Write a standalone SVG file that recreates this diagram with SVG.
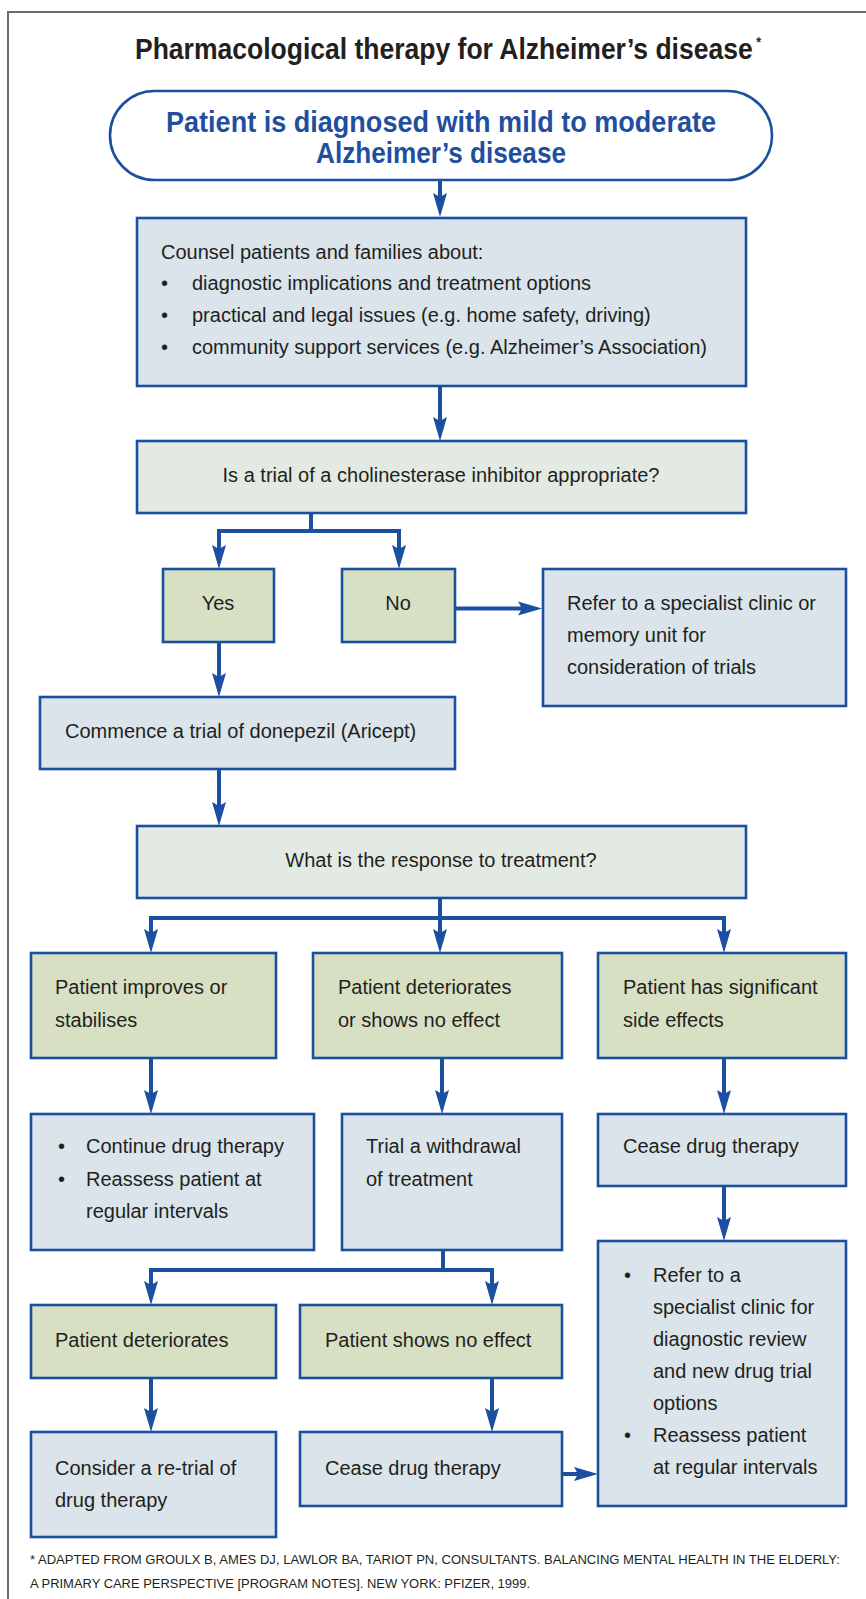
<svg xmlns="http://www.w3.org/2000/svg" width="866" height="1599" viewBox="0 0 866 1599">
<defs>
<marker id="ah" markerUnits="userSpaceOnUse" markerWidth="30" markerHeight="20" viewBox="-10 -10 30 20" refX="0" refY="0" orient="auto" overflow="visible">
<path d="M15,0 L-9,-7 L-5,0 L-9,7 Z" fill="#1b4f9f"/>
</marker>
<style>
.bx{stroke:#1b4f9f;stroke-width:2.6}
.lb{fill:#dae4ea}
.gr{fill:#d8e0c4}
.dc{fill:#e3eae3}
.t{font-family:"Liberation Sans",Arial,sans-serif;font-size:20px;fill:#231f20}
.c{stroke:#1b4f9f;stroke-width:4;fill:none}
.a{marker-end:url(#ah)}
</style>
</defs>
<rect width="866" height="1599" fill="#ffffff"/>
<path d="M8,1599 V12 H866" fill="none" stroke="#6b6b6b" stroke-width="2"/>
<g id="title">
<text x="135" y="59" textLength="626" lengthAdjust="spacingAndGlyphs" style="font-family:'Liberation Sans',Arial,sans-serif;font-weight:bold;font-size:30px;fill:#231f20">Pharmacological therapy for Alzheimer’s disease<tspan dx="4" dy="-12" style="font-size:14px">*</tspan></text>
</g>
<g id="start">
<rect x="110" y="91" width="662" height="89" rx="44.5" fill="#ffffff" class="bx"/>
<text x="166" y="132" textLength="550" lengthAdjust="spacingAndGlyphs" style="font-family:'Liberation Sans',Arial,sans-serif;font-weight:bold;font-size:29px;fill:#1f4f9e">Patient is diagnosed with mild to moderate</text>
<text x="316" y="163" textLength="250" lengthAdjust="spacingAndGlyphs" style="font-family:'Liberation Sans',Arial,sans-serif;font-weight:bold;font-size:29px;fill:#1f4f9e">Alzheimer’s disease</text>
</g>
<g id="counsel">
<rect x="137" y="218" width="609" height="168" class="bx lb"/>
<text class="t" x="161" y="259">Counsel patients and families about:</text>
<text class="t" x="161" y="290">•</text><text class="t" x="192" y="290">diagnostic implications and treatment options</text>
<text class="t" x="161" y="322">•</text><text class="t" x="192" y="322">practical and legal issues (e.g. home safety, driving)</text>
<text class="t" x="161" y="354">•</text><text class="t" x="192" y="354">community support services (e.g. Alzheimer’s Association)</text>
</g>
<g id="decision1">
<rect x="137" y="441" width="609" height="72" class="bx dc"/>
<text class="t" x="441" y="482" text-anchor="middle">Is a trial of a cholinesterase inhibitor appropriate?</text>
</g>
<g id="yes">
<rect x="163" y="569" width="111" height="73" class="bx gr"/>
<text class="t" x="218" y="610" text-anchor="middle">Yes</text>
</g>
<g id="no">
<rect x="342" y="569" width="113" height="73" class="bx gr"/>
<text class="t" x="398" y="610" text-anchor="middle">No</text>
</g>
<g id="refer">
<rect x="543" y="569" width="303" height="137" class="bx lb"/>
<text class="t" x="567" y="610">Refer to a specialist clinic or</text>
<text class="t" x="567" y="642">memory unit for</text>
<text class="t" x="567" y="674">consideration of trials</text>
</g>
<g id="commence">
<rect x="40" y="697" width="415" height="72" class="bx lb"/>
<text class="t" x="65" y="738">Commence a trial of donepezil (Aricept)</text>
</g>
<g id="response">
<rect x="137" y="826" width="609" height="72" class="bx dc"/>
<text class="t" x="441" y="867" text-anchor="middle">What is the response to treatment?</text>
</g>
<g id="improves">
<rect x="31" y="953" width="245" height="105" class="bx gr"/>
<text class="t" x="55" y="994">Patient improves or</text>
<text class="t" x="55" y="1027">stabilises</text>
</g>
<g id="deteriorates-or-no-effect">
<rect x="313" y="953" width="249" height="105" class="bx gr"/>
<text class="t" x="338" y="994">Patient deteriorates</text>
<text class="t" x="338" y="1027">or shows no effect</text>
</g>
<g id="side-effects">
<rect x="598" y="953" width="248" height="105" class="bx gr"/>
<text class="t" x="623" y="994">Patient has significant</text>
<text class="t" x="623" y="1027">side effects</text>
</g>
<g id="continue">
<rect x="31" y="1114" width="283" height="136" class="bx lb"/>
<text class="t" x="58" y="1153">•</text><text class="t" x="86" y="1153">Continue drug therapy</text>
<text class="t" x="58" y="1186">•</text><text class="t" x="86" y="1186">Reassess patient at</text>
<text class="t" x="86" y="1218">regular intervals</text>
</g>
<g id="withdrawal">
<rect x="342" y="1114" width="220" height="136" class="bx lb"/>
<text class="t" x="366" y="1153">Trial a withdrawal</text>
<text class="t" x="366" y="1186">of treatment</text>
</g>
<g id="cease1">
<rect x="598" y="1114" width="248" height="72" class="bx lb"/>
<text class="t" x="623" y="1153">Cease drug therapy</text>
</g>
<g id="refer2">
<rect x="598" y="1241" width="248" height="265" class="bx lb"/>
<text class="t" x="624" y="1282">•</text><text class="t" x="653" y="1282">Refer to a</text>
<text class="t" x="653" y="1314">specialist clinic for</text>
<text class="t" x="653" y="1346">diagnostic review</text>
<text class="t" x="653" y="1378">and new drug trial</text>
<text class="t" x="653" y="1410">options</text>
<text class="t" x="624" y="1442">•</text><text class="t" x="653" y="1442">Reassess patient</text>
<text class="t" x="653" y="1474">at regular intervals</text>
</g>
<g id="deteriorates">
<rect x="31" y="1305" width="245" height="73" class="bx gr"/>
<text class="t" x="55" y="1347">Patient deteriorates</text>
</g>
<g id="no-effect">
<rect x="300" y="1305" width="262" height="73" class="bx gr"/>
<text class="t" x="325" y="1347">Patient shows no effect</text>
</g>
<g id="retrial">
<rect x="31" y="1432" width="245" height="105" class="bx lb"/>
<text class="t" x="55" y="1475">Consider a re-trial of</text>
<text class="t" x="55" y="1507">drug therapy</text>
</g>
<g id="cease2">
<rect x="300" y="1432" width="262" height="74" class="bx lb"/>
<text class="t" x="325" y="1475">Cease drug therapy</text>
</g>
<g id="connectors">
<path class="c a" d="M440,181 V202"/>
<path class="c a" d="M440,387 V426"/>
<path class="c" d="M311,514 V531"/>
<path class="c" d="M219,531 H399" stroke-linecap="square"/>
<path class="c a" d="M219,531 V554"/>
<path class="c a" d="M399,531 V554"/>
<path class="c a" d="M456,608.5 H527"/>
<path class="c a" d="M219,643 V682"/>
<path class="c a" d="M219,770 V811"/>
<path class="c" d="M440,899 V918"/>
<path class="c" d="M151,918 H724" stroke-linecap="square"/>
<path class="c a" d="M151,918 V938"/>
<path class="c a" d="M440,918 V938"/>
<path class="c a" d="M724,918 V938"/>
<path class="c a" d="M151,1059 V1099"/>
<path class="c a" d="M442,1059 V1099"/>
<path class="c a" d="M724,1059 V1099"/>
<path class="c a" d="M724,1187 V1226"/>
<path class="c" d="M443,1251 V1270"/>
<path class="c" d="M151,1270 H492" stroke-linecap="square"/>
<path class="c a" d="M151,1270 V1290"/>
<path class="c a" d="M492,1270 V1290"/>
<path class="c a" d="M151,1379 V1417"/>
<path class="c a" d="M492,1379 V1417"/>
<path class="c a" d="M563,1474 H583"/>
</g>
<g id="footnote">
<text x="30" y="1564" textLength="810" lengthAdjust="spacingAndGlyphs" style="font-family:'Liberation Sans',Arial,sans-serif;font-size:12px;fill:#231f20">* ADAPTED FROM GROULX B, AMES DJ, LAWLOR BA, TARIOT PN, CONSULTANTS. BALANCING MENTAL HEALTH IN THE ELDERLY:</text>
<text x="30" y="1588" textLength="500" lengthAdjust="spacingAndGlyphs" style="font-family:'Liberation Sans',Arial,sans-serif;font-size:12px;fill:#231f20">A PRIMARY CARE PERSPECTIVE [PROGRAM NOTES]. NEW YORK: PFIZER, 1999.</text>
</g>
</svg>
